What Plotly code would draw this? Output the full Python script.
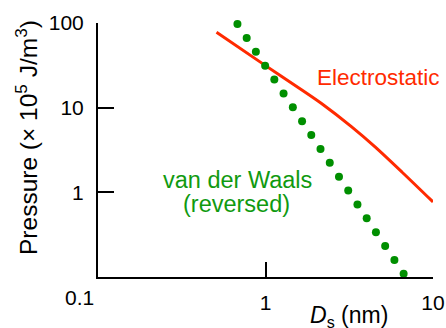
import plotly.graph_objects as go

# Electrostatic pressure curve (x in nm, y in 10^5 J/m^3)
elec_x = [0.51, 0.99, 1.64, 2.16, 3.27, 4.51, 6.52, 10.0]
elec_y = [78.0, 31.8, 16.3, 11.2, 5.93, 3.44, 1.74, 0.77]

# van der Waals (reversed) dotted series
vdw_x = [0.680, 0.772, 0.876, 0.995, 1.129, 1.282, 1.456, 1.653, 1.876, 2.130,
         2.419, 2.746, 3.118, 3.540, 4.019, 4.563, 5.181, 5.883, 6.678]
vdw_y = [97.3, 66.7, 45.7, 31.3, 21.5, 14.7, 10.1, 6.93, 4.75, 3.26,
         2.23, 1.53, 1.05, 0.720, 0.494, 0.338, 0.232, 0.159, 0.109]

x_tickvals = [1, 10]
x_ticktext = ["1", "10"]
y_tickvals = [1, 10, 100]
y_ticktext = ["1", "10", "100"]

FONT = "Liberation Sans, Arial, Helvetica, sans-serif"
RED = "#ff2a00"
GREEN = "#008f00"
GREEN_TXT = "#109a10"

fig = go.Figure()
fig.add_trace(go.Scatter(x=elec_x, y=elec_y, mode="lines",
                         line=dict(color=RED, width=3, shape="spline", smoothing=0.8),
                         showlegend=False, cliponaxis=False))
fig.add_trace(go.Scatter(x=vdw_x, y=vdw_y, mode="markers",
                         marker=dict(color=GREEN, size=8), showlegend=False,
                         cliponaxis=False))

fig.update_layout(
    width=446, height=328,
    margin=dict(l=98, r=13, t=23, b=51),
    paper_bgcolor="white", plot_bgcolor="white",
    font=dict(family=FONT, size=21, color="black"),
)
fig.update_xaxes(type="log", range=[-1, 1], showgrid=False, zeroline=False,
                 automargin=False,
                 showline=True, linecolor="black", linewidth=2,
                 ticks="inside", ticklen=15, tickwidth=2, tickcolor="black",
                 tickvals=x_tickvals, ticktext=x_ticktext,
                 tickfont=dict(size=21, family=FONT), ticklabelstandoff=6)
fig.update_yaxes(type="log", range=[-1, 2], showgrid=False, zeroline=False,
                 automargin=False,
                 showline=True, linecolor="black", linewidth=2,
                 ticks="inside", ticklen=16, tickwidth=2, tickcolor="black",
                 tickvals=y_tickvals, ticktext=y_ticktext,
                 tickfont=dict(size=21, family=FONT), ticklabelstandoff=8)

def px2paper(px, py):
    return (px - 98) / 335.0, (277 - py) / 254.0

anns = []
# "0.1" corner label
x, y = px2paper(79, 297)
anns.append(dict(text="0.1", x=x, y=y, xref="paper", yref="paper",
                 xanchor="center", yanchor="middle", showarrow=False,
                 font=dict(size=21, family=FONT, color="black")))
# y title
x, y = px2paper(26, 138)
anns.append(dict(text="Pressure (× 10<sup>5</sup> J/m<sup>3</sup>)", x=x, y=y,
                 xref="paper", yref="paper", textangle=-90,
                 xanchor="center", yanchor="middle", showarrow=False,
                 font=dict(size=24.5, family=FONT, color="black")))
# x title
x, y = px2paper(349, 316)
anns.append(dict(text="<i>D</i><sub>s</sub> (nm)", x=x, y=y,
                 xref="paper", yref="paper",
                 xanchor="center", yanchor="middle", showarrow=False,
                 font=dict(size=23, family=FONT, color="black")))
# Electrostatic
x, y = px2paper(315, 78)
anns.append(dict(text="Electrostatic", x=x, y=y, xref="paper", yref="paper",
                 xanchor="left", yanchor="middle", showarrow=False,
                 font=dict(size=22.5, family=FONT, color=RED)))
# van der Waals
x, y = px2paper(237, 180)
anns.append(dict(text="van der Waals", x=x, y=y, xref="paper", yref="paper",
                 xanchor="center", yanchor="middle", showarrow=False,
                 font=dict(size=23.5, family=FONT, color=GREEN_TXT)))
x, y = px2paper(236, 204)
anns.append(dict(text="(reversed)", x=x, y=y, xref="paper", yref="paper",
                 xanchor="center", yanchor="middle", showarrow=False,
                 font=dict(size=23.5, family=FONT, color=GREEN_TXT)))
fig.update_layout(annotations=anns)

fig.write_html("out.html",
               config={"displayModeBar": False},
               post_script="document.body.style.margin='0';"
                           "document.body.style.overflow='hidden';")
